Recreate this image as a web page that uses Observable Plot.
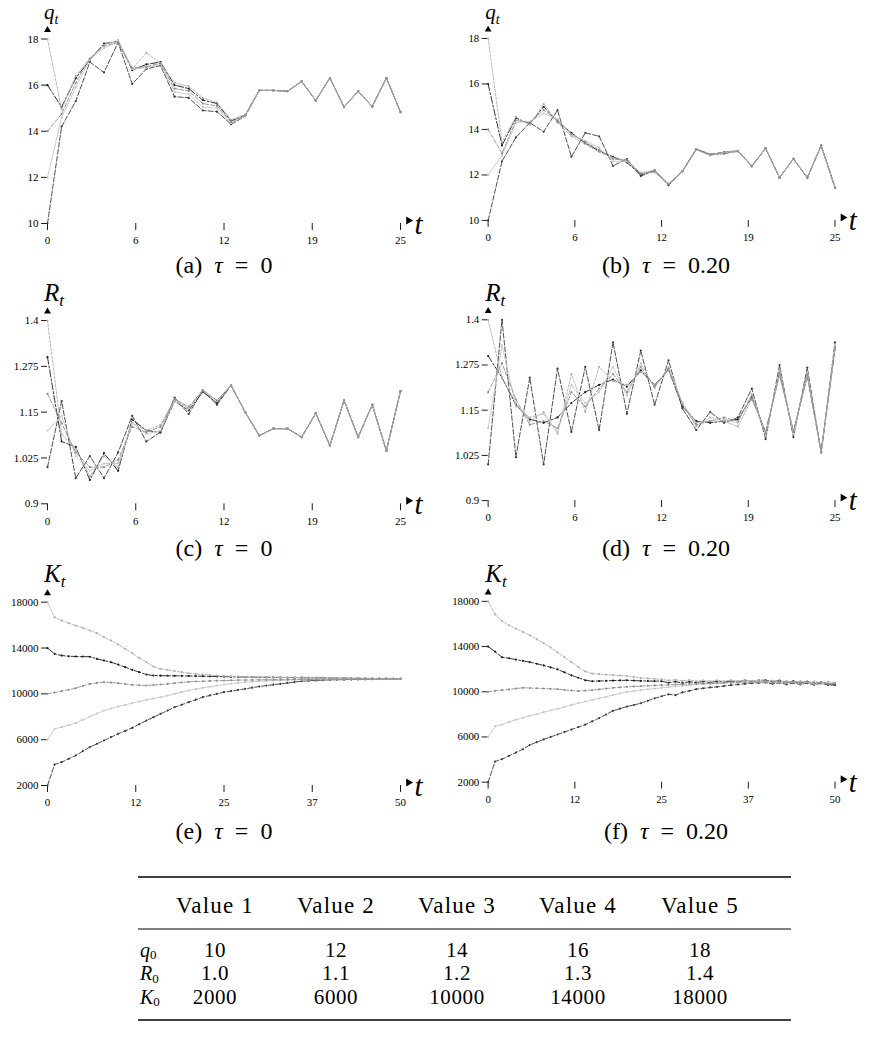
<!DOCTYPE html>
<html>
<head>
<meta charset="utf-8">
<script src="https://cdn.jsdelivr.net/npm/d3@7"></script>
<script src="https://cdn.jsdelivr.net/npm/@observablehq/plot@0.6"></script>
<style>
  body { margin: 0; background: #fff; }
  #fig { position: relative; width: 874px; height: 1038px; overflow: hidden;
         font-family: "Liberation Serif", "Times New Roman", "DejaVu Serif", serif; }
  #fig > .panel { position: absolute; }
</style>
</head>
<body>
<div id="fig"></div>
<script>
// ---- time index -------------------------------------------------------
const tShort = d3.range(26);   // t = 0..25
const tLong = d3.range(51);    // t = 0..50

// ---- q_t, tau = 0 -----------------------------------------------------
const qTau0_v1 = [10,14.20,15.30,17.00,16.55,17.85,16.05,16.70,16.85,15.50,15.45,14.90,14.85,14.30,14.65,15.77,15.77,15.74,16.16,15.33,16.31,15.05,15.74,15.07,16.31,14.83];
const qTau0_v2 = [12,14.60,15.90,17.10,17.60,17.90,16.70,16.75,16.90,15.70,15.60,15.05,15.00,14.35,14.67,15.77,15.77,15.74,16.16,15.33,16.31,15.05,15.74,15.07,16.31,14.83];
const qTau0_v3 = [14,14.75,16.10,17.15,17.70,17.85,16.75,16.80,16.95,15.85,15.75,15.20,15.10,14.40,14.68,15.77,15.77,15.74,16.16,15.33,16.31,15.05,15.74,15.07,16.31,14.83];
const qTau0_v4 = [16,15.05,16.30,17.10,17.80,17.90,16.65,16.90,17.00,16.00,15.85,15.35,15.20,14.45,14.70,15.78,15.77,15.74,16.16,15.33,16.31,15.05,15.74,15.07,16.31,14.83];
const qTau0_v5 = [18,14.95,16.40,17.15,17.75,17.95,16.70,17.40,16.95,16.10,15.95,15.45,15.25,14.50,14.72,15.78,15.77,15.74,16.16,15.33,16.31,15.05,15.74,15.07,16.31,14.83];

// ---- q_t, tau = 0.20 --------------------------------------------------
const qTau20_v1 = [10,12.60,13.65,14.30,13.90,14.85,12.80,13.85,13.70,12.40,12.70,11.95,12.20,11.55,12.16,13.14,12.91,13.00,13.06,12.38,13.17,11.88,12.71,11.88,13.29,11.44];
const qTau20_v2 = [12,12.85,14.30,14.35,14.70,14.45,13.75,13.50,13.20,12.60,12.60,12.10,12.10,11.60,12.14,13.10,12.85,12.98,13.02,12.42,13.15,11.90,12.70,11.90,13.27,11.45];
const qTau20_v3 = [14,12.95,14.40,14.30,14.85,14.40,13.80,13.45,13.10,12.70,12.65,12.05,12.15,11.60,12.15,13.12,12.88,12.96,13.04,12.40,13.16,11.89,12.70,11.89,13.28,11.45];
const qTau20_v4 = [16,13.30,14.50,14.25,15.00,14.35,13.85,13.40,13.05,12.80,12.55,12.00,12.20,11.58,12.16,13.13,12.90,12.94,13.05,12.39,13.17,11.88,12.71,11.88,13.29,11.44];
const qTau20_v5 = [18,13.45,14.55,14.20,15.12,14.30,13.70,13.35,13.00,12.75,12.60,12.10,12.20,11.62,12.17,13.14,12.92,12.97,13.06,12.37,13.17,11.88,12.71,11.88,13.29,11.44];

// ---- R_t, tau = 0 -----------------------------------------------------
const rTau0_v1 = [1.00,1.180,0.970,1.030,0.970,1.040,1.140,1.070,1.095,1.190,1.145,1.210,1.170,1.223,1.150,1.086,1.105,1.105,1.082,1.147,1.059,1.182,1.082,1.170,1.045,1.207];
const rTau0_v2 = [1.10,1.140,1.030,0.990,1.010,1.010,1.120,1.090,1.100,1.180,1.160,1.210,1.180,1.223,1.150,1.086,1.105,1.105,1.082,1.147,1.059,1.182,1.082,1.170,1.045,1.207];
const rTau0_v3 = [1.20,1.120,1.040,1.000,1.000,1.020,1.110,1.095,1.110,1.185,1.165,1.210,1.182,1.223,1.150,1.086,1.105,1.105,1.082,1.147,1.059,1.182,1.082,1.170,1.045,1.207];
const rTau0_v4 = [1.30,1.070,1.055,0.965,1.038,0.990,1.130,1.100,1.095,1.180,1.155,1.205,1.175,1.223,1.150,1.086,1.105,1.105,1.082,1.147,1.059,1.182,1.082,1.170,1.045,1.207];
const rTau0_v5 = [1.40,1.090,1.050,0.975,1.030,1.000,1.120,1.100,1.115,1.185,1.160,1.210,1.180,1.223,1.150,1.086,1.105,1.105,1.082,1.147,1.059,1.182,1.082,1.170,1.045,1.207];

// ---- R_t, tau = 0.20 --------------------------------------------------
const rTau20_v1 = [1.00,1.400,1.020,1.240,1.000,1.265,1.090,1.270,1.095,1.338,1.140,1.315,1.165,1.288,1.155,1.095,1.145,1.115,1.130,1.210,1.070,1.275,1.075,1.268,1.032,1.338];
const rTau20_v2 = [1.10,1.330,1.160,1.130,1.140,1.090,1.220,1.170,1.200,1.270,1.190,1.280,1.210,1.270,1.170,1.105,1.130,1.125,1.115,1.195,1.080,1.260,1.085,1.255,1.032,1.330];
const rTau20_v3 = [1.20,1.280,1.180,1.110,1.120,1.100,1.200,1.160,1.210,1.250,1.200,1.270,1.215,1.265,1.165,1.110,1.120,1.130,1.120,1.190,1.085,1.255,1.090,1.250,1.035,1.325];
const rTau20_v4 = [1.30,1.240,1.165,1.125,1.115,1.130,1.170,1.200,1.220,1.235,1.215,1.260,1.220,1.262,1.160,1.120,1.115,1.120,1.125,1.185,1.090,1.250,1.090,1.245,1.035,1.320];
const rTau20_v5 = [1.40,1.240,1.170,1.120,1.145,1.085,1.250,1.145,1.270,1.230,1.220,1.255,1.220,1.260,1.170,1.115,1.120,1.120,1.105,1.180,1.090,1.248,1.088,1.245,1.035,1.320];

// ---- K_t, tau = 0 -----------------------------------------------------
const kTau0_v1 = [2000,3830,4040,4330,4620,5000,5350,5640,5930,6220,6510,6770,7030,7350,7670,7960,8250,8540,8835,9050,9270,9490,9710,9860,10000,10145,10240,10340,10435,10540,10640,10720,10800,10870,10950,11030,11105,11140,11170,11200,11220,11230,11240,11250,11260,11270,11280,11290,11300,11300,11310];
const kTau0_v2 = [6000,6945,7090,7260,7440,7730,8020,8280,8545,8720,8895,9040,9185,9330,9475,9590,9710,9850,10000,10150,10290,10410,10525,10620,10720,10815,10880,10950,11020,11060,11100,11130,11165,11180,11200,11215,11230,11240,11255,11270,11280,11285,11290,11290,11295,11300,11300,11305,11305,11310,11310];
const kTau0_v3 = [10000,10110,10230,10360,10495,10690,10870,10950,11020,10980,10930,10860,10785,10750,10730,10770,10815,10870,10930,10990,11050,11080,11100,11130,11150,11165,11180,11195,11205,11215,11220,11230,11235,11240,11250,11255,11260,11265,11270,11275,11280,11285,11290,11290,11295,11300,11300,11305,11305,11310,11310];
const kTau0_v4 = [14000,13490,13345,13280,13260,13250,13240,13055,12910,12760,12560,12330,12095,11890,11690,11600,11590,11580,11575,11565,11560,11550,11540,11530,11515,11500,11490,11480,11470,11460,11450,11445,11440,11430,11420,11415,11410,11400,11395,11390,11380,11375,11370,11360,11355,11350,11340,11335,11325,11320,11310];
const kTau0_v5 = [18000,16690,16400,16170,15960,15760,15530,15300,14945,14650,14305,13930,13550,13140,12760,12385,12180,12095,11980,11890,11800,11740,11690,11640,11600,11560,11530,11510,11490,11470,11455,11450,11440,11435,11430,11425,11420,11415,11410,11405,11400,11390,11380,11370,11360,11350,11345,11335,11325,11320,11310];

// ---- K_t, tau = 0.20 --------------------------------------------------
const kTau20_v1 = [2000,3830,4040,4330,4620,4910,5290,5540,5780,6000,6220,6440,6655,6870,7090,7380,7670,7990,8310,8500,8690,8830,8980,9200,9420,9600,9770,9700,9940,10080,10230,10300,10380,10435,10500,10580,10640,10700,10760,10790,10815,10700,10800,10650,10780,10640,10760,10620,10740,10600,10580];
const kTau20_v2 = [6000,6945,7090,7310,7530,7700,7875,8030,8195,8340,8490,8660,8835,8980,9130,9270,9420,9560,9710,9850,10000,10070,10140,10210,10280,10350,10410,10470,10520,10580,10640,10680,10720,10760,10790,10815,10840,10860,10870,10880,10870,10820,10900,10760,10880,10720,10860,10700,10850,10720,10730];
const kTau20_v3 = [10000,10080,10145,10210,10280,10350,10330,10310,10290,10260,10230,10170,10110,10060,10100,10145,10210,10280,10350,10390,10435,10470,10500,10530,10560,10580,10610,10640,10660,10680,10700,10720,10740,10760,10780,10800,10820,10840,10850,10860,10870,10800,10900,10780,10880,10760,10870,10740,10860,10720,10730];
const kTau20_v4 = [14000,13550,13055,12965,12850,12735,12620,12480,12330,12160,11980,11720,11455,11240,11020,10930,10950,10970,10990,11000,11020,10990,10960,10950,10940,10930,10800,10900,10760,10880,10815,10900,10820,10920,10850,10960,10880,11000,10900,11020,11020,10900,10980,10820,10940,10780,10900,10720,10860,10680,10640];
const kTau20_v5 = [18000,16840,16255,15880,15585,15295,15000,14655,14305,13930,13490,13055,12620,12180,11800,11600,11560,11510,11470,11430,11400,11310,11220,11180,11140,11105,11000,11070,10960,11040,10930,11000,10920,11010,10930,11020,10940,11030,10950,11030,10930,10980,10880,10960,10840,10940,10820,10920,10800,10880,10815];

// ---- axis ticks ---------------------------------------------------------
const xTicksShort = [0, 6.25, 12.5, 18.75, 25];
const xLabelsShort = ["0", "6", "12", "19", "25"];
const xTicksLong = [0, 12.5, 25, 37.5, 50];
const xLabelsLong = ["0", "12", "25", "37", "50"];
const qTicks = [10, 12, 14, 16, 18];
const qLabels = ["10", "12", "14", "16", "18"];
const rTicks = [0.9, 1.025, 1.15, 1.275, 1.4];
const rLabels = ["0.9", "1.025", "1.15", "1.275", "1.4"];
const kTicks = [2000, 6000, 10000, 14000, 18000];
const kLabels = ["2000", "6000", "10000", "14000", "18000"];

// ---- captions and table ---------------------------------------------------
const panelTags = ["(a)", "(b)", "(c)", "(d)", "(e)", "(f)"];
const tauValues = ["0", "0.20"];
const tableHeads = ["Value 1", "Value 2", "Value 3", "Value 4", "Value 5"];
const q0Values = ["10", "12", "14", "16", "18"];
const r0Values = ["1.0", "1.1", "1.2", "1.3", "1.4"];
const k0Values = ["2000", "6000", "10000", "14000", "18000"];

// ---- styling --------------------------------------------------------------
const SERIF = '"Liberation Serif", "Times New Roman", "DejaVu Serif", serif';
const seriesStyle = [
  {stroke: "#3a3a3a", dash: "5,2"},
  {stroke: "#c6c6c6", dash: "none"},
  {stroke: "#8e8e8e", dash: "4,2"},
  {stroke: "#1a1a1a", dash: "7,2,2,2"},
  {stroke: "#b0b0b0", dash: "2.5,1.5"}
];
const drawOrder = [3, 0, 4, 1, 2];

// grid geometry of the six panels (page pixels)
const rowsGeo = [
  {top: 0,   yTop: 38.5,  yBot: 223,   titleBase: 19},
  {top: 270, yTop: 320,   yBot: 503.3, titleBase: 301},
  {top: 540, yTop: 601.7, yBot: 785,   titleBase: 582}
];
const colsGeo = [
  {left: 0,   x0: 47,    x1: 400, capX: 224},
  {left: 440, x0: 488.3, x1: 840, capX: 666}
];
const captionBase = [273, 556, 839];

function seriesMarks(tIndex, series) {
  const marks = [];
  for (const i of drawOrder) {
    const rows = series[i].map((v, k) => ({t: tIndex[k], v}));
    const st = seriesStyle[i];
    marks.push(Plot.line(rows, {x: "t", y: "v", stroke: st.stroke, strokeWidth: 0.9, strokeDasharray: st.dash}));
    marks.push(Plot.dot(rows, {x: "t", y: "v", r: 1.1, fill: st.stroke, stroke: "none"}));
  }
  return marks;
}

function panel(row, col, cfg) {
  const R = rowsGeo[row], C = colsGeo[col];
  const W = 440, mb = 30;
  const xLab = new Map(cfg.xTicks.map((d, i) => [d, cfg.xLabels[i]]));
  const yLab = new Map(cfg.yTicks.map((d, i) => [d, cfg.yLabels[i]]));
  const [x0, x1] = cfg.xDomain, [y0, y1] = cfg.yDomain;
  const chart = Plot.plot({
    width: W,
    height: R.yBot - R.top + mb,
    marginLeft: C.x0 - C.left,
    marginRight: W - (C.x1 - C.left),
    marginTop: R.yTop - R.top,
    marginBottom: mb,
    style: {fontFamily: SERIF, fontSize: "11px", background: "transparent", overflow: "visible", color: "#000"},
    x: {domain: cfg.xDomain},
    y: {domain: cfg.yDomain},
    marks: [
      Plot.axisX({ticks: cfg.xTicks, tickFormat: d => xLab.get(d), tickSize: 7, tickPadding: 6, label: null, strokeWidth: 0.9, fontFamily: SERIF}),
      Plot.axisY({ticks: cfg.yTicks, tickFormat: d => yLab.get(d), tickSize: 6, tickPadding: 3, label: null, strokeWidth: 0.9, fontFamily: SERIF}),
      ...seriesMarks(cfg.t, cfg.series),
      // arrow heads of the two axes
      Plot.dot([0], {x: () => x0, y: () => y1, dy: -9, symbol: "triangle2", r: 3.3, fill: "#000"}),
      Plot.dot([0], {x: () => x1, y: () => y0, dx: 8, dy: -3, symbol: "triangle2", rotate: 90, r: 3.8, fill: "#000"}),
      Plot.text(["t"], {x: () => x1, y: () => y0, dx: 14, dy: 10, text: d => d, fontSize: 29, fontStyle: "italic", textAnchor: "start", lineAnchor: "bottom", fontFamily: SERIF, fill: "#000"})
    ]
  });
  const holder = document.createElement("div");
  holder.className = "panel";
  holder.style.left = C.left + "px";
  holder.style.top = R.top + "px";
  holder.appendChild(chart);
  document.getElementById("fig").appendChild(holder);
}

const qDom = [10, 18], rDom = [0.9, 1.4], kDom = [2000, 18000];
const shortCfg = {t: tShort, xDomain: [0, 25], xTicks: xTicksShort, xLabels: xLabelsShort};
const longCfg = {t: tLong, xDomain: [0, 50], xTicks: xTicksLong, xLabels: xLabelsLong};

panel(0, 0, {...shortCfg, yDomain: qDom, yTicks: qTicks, yLabels: qLabels, series: [qTau0_v1, qTau0_v2, qTau0_v3, qTau0_v4, qTau0_v5]});
panel(0, 1, {...shortCfg, yDomain: qDom, yTicks: qTicks, yLabels: qLabels, series: [qTau20_v1, qTau20_v2, qTau20_v3, qTau20_v4, qTau20_v5]});
panel(1, 0, {...shortCfg, yDomain: rDom, yTicks: rTicks, yLabels: rLabels, series: [rTau0_v1, rTau0_v2, rTau0_v3, rTau0_v4, rTau0_v5]});
panel(1, 1, {...shortCfg, yDomain: rDom, yTicks: rTicks, yLabels: rLabels, series: [rTau20_v1, rTau20_v2, rTau20_v3, rTau20_v4, rTau20_v5]});
panel(2, 0, {...longCfg, yDomain: kDom, yTicks: kTicks, yLabels: kLabels, series: [kTau0_v1, kTau0_v2, kTau0_v3, kTau0_v4, kTau0_v5]});
panel(2, 1, {...longCfg, yDomain: kDom, yTicks: kTicks, yLabels: kLabels, series: [kTau20_v1, kTau20_v2, kTau20_v3, kTau20_v4, kTau20_v5]});

// ---- text layer: axis titles, captions, parameter table -------------------
const over = d3.select("#fig").append("svg")
  .attr("width", 874).attr("height", 1038)
  .style("position", "absolute").style("left", 0).style("top", 0)
  .style("font-family", SERIF).attr("fill", "#000");

const yTitles = ["q", "R", "K"];
rowsGeo.forEach((R, r) => {
  colsGeo.forEach((C, c) => {
    const fs = r === 0 ? 21 : 25;
    const t = over.append("text").attr("x", C.x0 - 3).attr("y", R.titleBase)
      .attr("font-size", fs).attr("font-style", "italic");
    t.append("tspan").text(yTitles[r]);
    t.append("tspan").attr("font-size", Math.round(fs * 0.68)).attr("dy", 5).text("t");

    const cap = over.append("text").attr("x", C.capX).attr("y", captionBase[r])
      .attr("text-anchor", "middle").attr("font-size", 24).style("white-space", "pre");
    cap.append("tspan").text(panelTags[r * 2 + c] + "  ");
    cap.append("tspan").attr("font-style", "italic").text("τ");
    cap.append("tspan").text("  =  " + tauValues[c]);
  });
});

// table: booktabs-style rules, header row, three parameter rows
const tblLeft = 138, tblRight = 791;
const colCenters = [215, 336, 457, 578, 700];
[[877, 1.6], [929, 1], [1020, 1.6]].forEach(([y, w]) => {
  over.append("line").attr("x1", tblLeft).attr("x2", tblRight).attr("y1", y).attr("y2", y)
    .attr("stroke", "#000").attr("stroke-width", w);
});
const cell = (x, y, s, fs, ls) => over.append("text").attr("x", x).attr("y", y)
  .attr("text-anchor", "middle").attr("font-size", fs).style("letter-spacing", ls).text(s);
tableHeads.forEach((h, i) => cell(colCenters[i], 913, h, 23, "1.2px"));
const tableRows = [["q", q0Values, 956.5], ["R", r0Values, 980], ["K", k0Values, 1003.5]];
tableRows.forEach(([sym, vals, y]) => {
  const lab = over.append("text").attr("x", 140).attr("y", y).attr("font-size", 20);
  lab.append("tspan").attr("font-style", "italic").text(sym);
  lab.append("tspan").attr("font-size", 13).attr("dy", 2.5).text("0");
  vals.forEach((v, i) => cell(colCenters[i], y, v, 21, "0.6px"));
});
</script>
</body>
</html>
